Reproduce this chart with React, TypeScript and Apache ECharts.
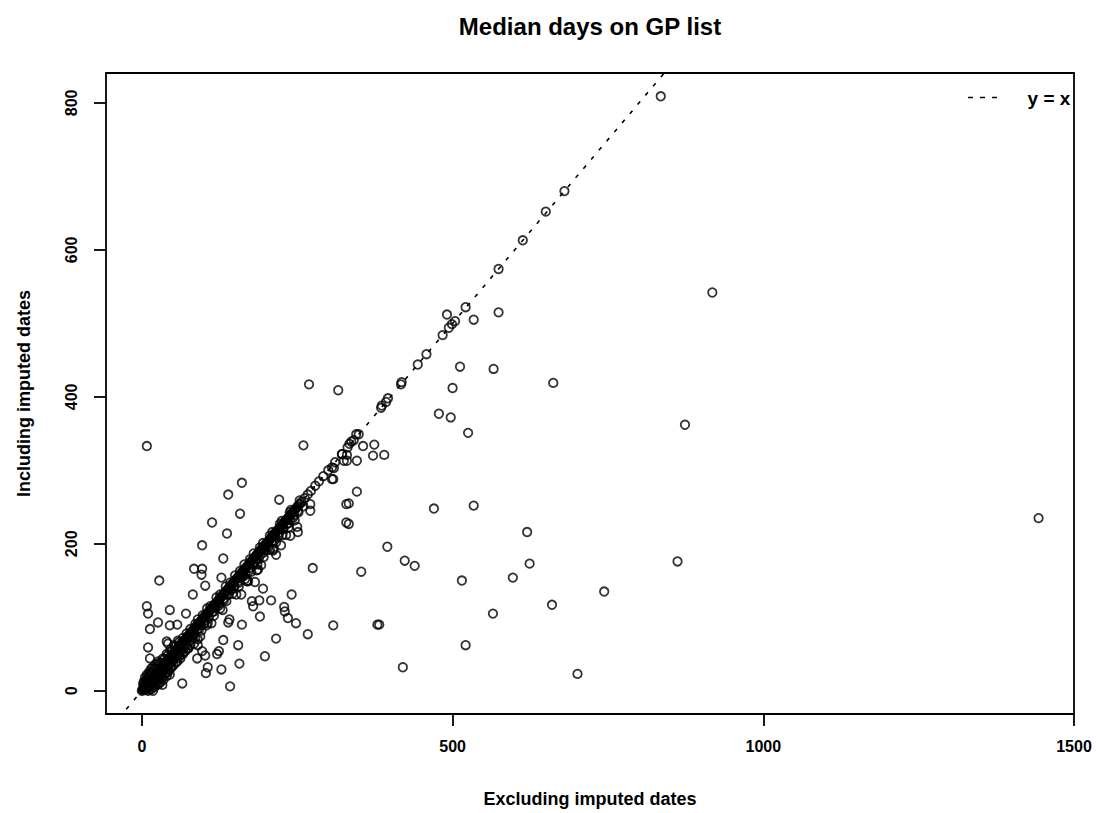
import React, { useEffect, useRef } from "react";
import * as echarts from "echarts";

// Axis ticks (days)
const xTicks = [0, 500, 1000, 1500];
const yTicks = [0, 200, 400, 600, 800];

// Reference line y = x, end points (clipped by the plot area)
const refLine = [-100, 1000];

// Practices whose median is unchanged by imputation (excluding = including)
const equalMedians = [
  0, 1, 2, 3, 4, 5, 6, 7, 8, 9, 10, 11, 12, 13, 14, 15, 16, 17, 18, 19, 20, 21, 22, 23, 24, 25, 26, 27, 28, 29,
  30, 31, 32, 33, 34, 35, 36, 37, 38, 39, 40, 41, 42, 43, 44, 45, 46, 47, 48, 49, 50, 51, 52, 53, 54, 55, 56, 57,
  58, 59, 60, 61, 62, 63, 64, 65, 66, 67, 68, 69, 70, 72, 73, 74, 75, 76, 78, 79, 80, 82, 84, 85, 87, 88, 90, 91,
  93, 95, 96, 98, 100, 101, 103, 105, 106, 108, 110, 111, 113, 115, 117, 118, 120, 122, 124, 125, 127, 129, 131,
  133, 135, 137, 139, 141, 143, 145, 147, 149, 151, 153, 155, 157, 159, 161, 163, 165, 167, 169, 171, 173, 175,
  177, 179, 181, 183, 185, 187, 189, 191, 193, 195, 197, 199, 201, 203, 205, 207, 209, 211, 213, 215, 217, 219,
  221, 223, 225, 227, 229, 231, 233, 235, 237, 239, 241, 243, 245, 247, 249, 251, 253, 255, 257, 262, 267, 272,
  279, 285, 292, 300, 311, 322, 331, 341, 349, 385, 393, 417, 444, 458, 484, 494, 499, 574, 613, 680,
];

// Practices whose median changes: [excluding imputed, including imputed]
const differingMedians: [number, number][] = [
  // close to the diagonal, 0-90 days
  [4, 1], [6, 2], [8, 3], [10, 4], [12, 6], [14, 9], [16, 10], [18, 12], [20, 14], [22, 15], [24, 17], [26, 19],
  [28, 20], [30, 22], [32, 24], [35, 27], [38, 30], [41, 33], [44, 36], [47, 39], [50, 42], [53, 45], [56, 47],
  [60, 51], [64, 55], [68, 59], [72, 63], [76, 67], [80, 71],
  [3, 12], [5, 18], [8, 22], [12, 26], [15, 30], [6, 14], [10, 20], [18, 32], [22, 36], [26, 40], [4, 8], [9, 16],
  [14, 24], [20, 30], [28, 38], [34, 44], [40, 50], [46, 56], [52, 62], [58, 68],
  [10, 0], [15, 2], [20, 5], [25, 8], [18, 0], [30, 12], [35, 15], [40, 20], [45, 22], [28, 10], [33, 18],
  [38, 24], [43, 28], [48, 32], [55, 38], [62, 44], [66, 50], [70, 54], [75, 58], [84, 64], [90, 70],
  [2, 9], [7, 12], [11, 17], [16, 24], [21, 28], [25, 33], [31, 38], [36, 43], [42, 48], [48, 54], [54, 60],
  [60, 66], [66, 72], [72, 78], [78, 84], [12, 2], [17, 7], [23, 11], [27, 15], [32, 18], [37, 23], [42, 25],
  [46, 31], [51, 35], [57, 40], [61, 47], [67, 52], [73, 57], [78, 62],
  // close to the diagonal, 80-260 days
  [84, 76], [92, 84], [100, 91], [108, 99], [116, 108], [124, 116], [132, 123], [140, 131], [148, 139],
  [156, 147], [164, 156], [172, 163], [180, 171], [188, 179], [196, 188], [204, 195], [212, 204], [220, 211],
  [228, 220], [236, 228], [244, 236], [252, 243], [260, 251],
  [83, 77], [89, 83], [95, 89], [101, 95], [107, 101], [113, 107], [119, 113], [125, 119], [131, 125],
  [137, 131], [143, 137], [149, 143], [155, 149], [161, 155], [167, 161], [173, 167], [179, 173], [185, 179],
  [191, 185], [197, 191], [203, 197], [209, 203], [215, 209], [221, 215], [227, 221], [233, 227], [239, 233],
  [245, 239], [251, 245],
  [86, 72], [96, 82], [106, 92], [116, 102], [126, 112], [136, 122], [146, 132], [156, 142], [166, 152],
  [176, 162], [186, 172], [196, 182], [206, 192], [216, 202], [226, 212], [236, 222], [246, 232],
  [94, 74], [112, 92], [130, 110], [152, 131], [170, 150], [192, 171], [212, 193], [232, 212],
  [90, 97], [105, 112], [120, 127], [135, 142], [150, 157], [165, 172], [180, 187], [195, 201], [210, 216],
  [225, 231], [240, 246],
  [86, 91], [98, 103], [110, 115], [126, 131], [142, 147], [158, 163], [174, 179], [190, 195], [206, 211],
  [222, 227], [238, 243], [254, 259],
  // upper part of the diagonal
  [386, 388], [396, 398], [418, 420], [491, 512], [504, 503], [521, 522], [534, 505], [574, 515], [650, 652],
  [835, 809],
  // scattered
  [918, 542], [512, 441], [566, 438], [662, 419], [500, 412], [316, 409], [269, 417], [478, 377], [497, 372],
  [874, 362], [525, 351], [345, 349], [337, 339], [334, 336], [356, 333], [374, 335], [322, 322], [330, 313],
  [346, 313], [372, 320], [390, 321], [309, 303], [308, 288], [8, 333], [260, 334],
  [346, 271], [333, 255], [470, 248], [534, 252], [333, 227], [620, 216], [395, 196], [423, 177], [439, 170],
  [624, 173], [353, 162], [862, 176], [515, 150], [597, 154], [744, 135], [660, 117], [565, 105], [308, 89],
  [379, 90], [382, 90], [521, 62], [420, 32], [701, 23], [1443, 235],
  [161, 283], [139, 267], [158, 241], [113, 229], [137, 214], [221, 260], [97, 198], [131, 180], [84, 166],
  [97, 166], [96, 158], [28, 150], [102, 143], [128, 154], [82, 131], [275, 167], [241, 131], [8, 115],
  [10, 105], [45, 110], [71, 105], [26, 93], [13, 84], [45, 89], [57, 90], [161, 90], [190, 101], [177, 122],
  [179, 115], [189, 123], [208, 123], [229, 114], [230, 108], [235, 99], [248, 92], [267, 77], [141, 97],
  [139, 93], [169, 149], [182, 148], [195, 139], [185, 164], [40, 67], [42, 64], [10, 59], [13, 44], [90, 62],
  [97, 54], [89, 44], [102, 48], [131, 69], [155, 62], [121, 50], [124, 54], [157, 37], [198, 47], [106, 32],
  [103, 24], [128, 29], [65, 10], [142, 6], [33, 8], [216, 71], [325, 313], [330, 321], [306, 288], [306, 304],
  [271, 254], [271, 245], [250, 223], [251, 216], [239, 211], [224, 198], [211, 191], [216, 185], [187, 165],
  [171, 149], [160, 131], [104, 89], [329, 254], [329, 229],
];

const FONT = "Liberation Sans";

export default function App() {
  const ref = useRef<HTMLDivElement>(null);

  useEffect(() => {
    if (!ref.current) return;
    const chart = echarts.init(ref.current, undefined, { renderer: "svg" });

    const points = [
      ...equalMedians.map((v) => [v, v]),
      ...differingMedians,
    ];

    const labelStyle = {
      color: "#000",
      fontFamily: FONT,
      fontSize: 16,
      fontWeight: "bold" as const,
      formatter: (v: number) => String(v),
    };
    const nameStyle = {
      color: "#000",
      fontFamily: FONT,
      fontSize: 18,
      fontWeight: "bold" as const,
    };
    const tick = (values: number[]) => ({
      show: true,
      inside: false,
      customValues: values,
      length: 12,
      lineStyle: { color: "#000", width: 1.8 },
    });

    chart.setOption({
      animation: false,
      backgroundColor: "#fff",
      grid: {
        left: 106,
        top: 73,
        right: 25,
        bottom: 97,
        show: true,
        borderColor: "#000",
        borderWidth: 1.8,
        backgroundColor: "rgba(0,0,0,0)",
      },
      xAxis: {
        type: "value",
        min: -57.7,
        max: 1500,
        axisLine: { show: false, onZero: false },
        splitLine: { show: false },
        axisTick: tick(xTicks),
        axisLabel: { ...labelStyle, customValues: xTicks, margin: 24 },
        name: "Excluding imputed dates",
        nameLocation: "middle",
        nameGap: 76,
        nameTextStyle: nameStyle,
      },
      yAxis: {
        type: "value",
        min: -31.6,
        max: 840.7,
        axisLine: { show: false, onZero: false },
        splitLine: { show: false },
        axisTick: tick(yTicks),
        axisLabel: { ...labelStyle, customValues: yTicks, margin: 27, rotate: 90 },
        name: "Including imputed dates",
        nameLocation: "middle",
        nameRotate: 90,
        nameGap: 73,
        nameTextStyle: nameStyle,
      },
      series: [
        {
          type: "scatter",
          data: points,
          symbol: "circle",
          symbolSize: 8.5,
          silent: true,
          itemStyle: {
            color: "rgba(0,0,0,0)",
            borderColor: "#000",
            borderWidth: 1.8,
          },
          z: 3,
        },
        {
          type: "line",
          data: refLine.map((v) => [v, v]),
          symbol: "none",
          silent: true,
          clip: true,
          lineStyle: { color: "#000", width: 1.6, type: [4, 8] },
          z: 2,
        },
      ],
      graphic: [
        {
          type: "text",
          x: 590,
          y: 26,
          style: {
            text: "Median days on GP list",
            fontFamily: FONT,
            fontSize: 24,
            fontWeight: "bold",
            fill: "#000",
            align: "center",
            verticalAlign: "middle",
          },
        },
        {
          type: "line",
          shape: { x1: 968, y1: 97.5, x2: 1000, y2: 97.5 },
          style: { stroke: "#000", lineWidth: 1.6, lineDash: [5, 7] },
        },
        {
          type: "text",
          x: 1049,
          y: 98,
          style: {
            text: "y = x",
            fontFamily: FONT,
            fontSize: 19,
            fontWeight: "bold",
            fill: "#000",
            align: "center",
            verticalAlign: "middle",
          },
        },
      ],
    });

    return () => chart.dispose();
  }, []);

  return (
    <div
      ref={ref}
      style={{ position: "fixed", left: 0, top: 0, width: 1099, height: 813, background: "#fff" }}
    />
  );
}
